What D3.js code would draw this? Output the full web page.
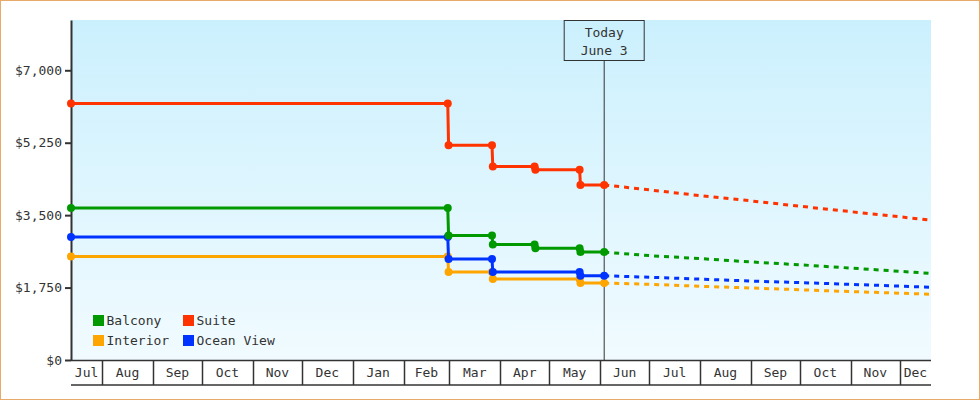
<!DOCTYPE html>
<html>
<head>
<meta charset="utf-8">
<script src="https://cdn.jsdelivr.net/npm/d3@7"></script>
<style>
  html, body { margin: 0; padding: 0; background: #fff; }
  svg { display: block; }
  text { font-family: "DejaVu Sans Mono", monospace; font-size: 13px; fill: #333; }
</style>
</head>
<body>
<svg id="chart"></svg>
<script>
const width = 980
const height = 400
const margin = {top: 20, right: 49, bottom: 40, left: 71}

// price history (step pairs) and forecast
const histDates = ['2024-07-13 00:00', '2025-02-28 00:00', '2025-02-28 12:00', '2025-03-27 00:00', '2025-03-27 12:00',
  '2025-04-22 00:00', '2025-04-22 12:00', '2025-05-19 12:00', '2025-05-20 00:00', '2025-06-03 12:00']
const suiteHist = [6200, 6200, 5190, 5190, 4675, 4675, 4595, 4595, 4230, 4230]
const balconyHist = [3670, 3670, 3008, 3008, 2790, 2790, 2703, 2703, 2607, 2607]
const oceanHist = [2970, 2970, 2438, 2438, 2124, null, null, 2124, 2035, 2035]
const interiorHist = [2500, 2500, 2124, 2124, 1955, null, null, 1955, 1858, 1858]

const forecastDates = ['2025-06-03 12:00', '2025-07-01 00:00', '2025-08-01 00:00', '2025-09-01 00:00',
  '2025-10-01 00:00', '2025-11-01 00:00', '2025-12-01 00:00', '2025-12-20 00:00']
const suiteFc = [4230, 4111, 3971, 3845, 3715, 3584, 3459, 3379]
const balconyFc = [2607, 2522, 2450, 2370, 2300, 2221, 2143, 2093]
const oceanFc = [2035, 1999, 1955, 1907, 1871, 1827, 1786, 1757]
const interiorFc = [1858, 1830, 1781, 1740, 1697, 1653, 1615, 1588]

const yTicks = [0, 1750, 3500, 5250, 7000]
const yMax = 8215
const domainDates = ['2024-07-13 00:00', '2025-12-20 00:00']
const today = '2025-06-03 12:00'
const todayLabel = ['Today', 'June 3']

const parse = d3.timeParse('%Y-%m-%d %H:%M')

// drawing order: bottom to top
const series = [
  {name: 'Interior', color: '#ffa500', hist: interiorHist, fc: interiorFc},
  {name: 'Ocean View', color: '#0033ff', hist: oceanHist, fc: oceanFc},
  {name: 'Balcony', color: '#009900', hist: balconyHist, fc: balconyFc},
  {name: 'Suite', color: '#ff3300', hist: suiteHist, fc: suiteFc}
]
const legendOrder = ['Balcony', 'Suite', 'Interior', 'Ocean View']

const innerW = width - margin.left - margin.right
const innerH = height - margin.top - margin.bottom

const x = d3.scaleTime().domain(domainDates.map(parse)).range([0, innerW])
const y = d3.scaleLinear().domain([0, yMax]).range([innerH, 0])

const svg = d3.select('#chart').attr('width', width).attr('height', height)

// outer frame
svg.append('rect').attr('x', 0.5).attr('y', 0.5).attr('width', width - 1).attr('height', height - 1)
  .attr('fill', '#fff').attr('stroke', '#e8aa66')

const defs = svg.append('defs')
const grad = defs.append('linearGradient').attr('id', 'bg').attr('x1', 0).attr('y1', 0).attr('x2', 0).attr('y2', 1)
grad.append('stop').attr('offset', '0%').attr('stop-color', '#cbf0fd')
grad.append('stop').attr('offset', '100%').attr('stop-color', '#f1fbff')

const g = svg.append('g').attr('transform', `translate(${margin.left}, ${margin.top})`)

g.append('rect').attr('width', innerW).attr('height', innerH).attr('fill', 'url(#bg)')

// y axis
const yAxis = g.append('g').call(d3.axisLeft(y).tickValues(yTicks).tickSize(6).tickSizeOuter(0).tickFormat(d3.format('$,')))
yAxis.select('.domain').attr('stroke', '#333').attr('stroke-width', 2)
yAxis.selectAll('.tick line').attr('stroke', '#333').attr('stroke-width', 2)
yAxis.selectAll('.tick text').attr('x', -9).style('font-family', '"DejaVu Sans Mono", monospace').style('font-size', '13px').attr('fill', '#333')

// x axis: month bands
const xg = g.append('g').attr('transform', `translate(0, ${innerH})`)
xg.append('line').attr('x1', 0).attr('x2', innerW).attr('y1', 0.5).attr('y2', 0.5).attr('stroke', '#333').attr('stroke-width', 1.5)
xg.append('line').attr('x1', 0).attr('x2', innerW).attr('y1', 25).attr('y2', 25).attr('stroke', '#333').attr('stroke-width', 1.5)
const [d0, d1] = x.domain()
const bounds = d3.timeMonth.range(d3.timeMonth.ceil(d0), d1)
xg.selectAll('.sep').data(bounds).enter().append('line').attr('class', 'sep')
  .attr('x1', d => Math.round(x(d)) + 0.5).attr('x2', d => Math.round(x(d)) + 0.5)
  .attr('y1', 0).attr('y2', 25).attr('stroke', '#333').attr('stroke-width', 1.5)
const months = d3.timeMonth.range(d3.timeMonth.floor(d0), d1)
xg.selectAll('.mlabel').data(months).enter().append('text').attr('class', 'mlabel')
  .attr('x', d => (x(d3.max([d, d0])) + x(d3.min([d3.timeMonth.offset(d, 1), d1]))) / 2)
  .attr('y', 17).attr('text-anchor', 'middle')
  .text(d3.timeFormat('%b'))

// today marker
const tx = x(parse(today))
g.append('line').attr('x1', tx).attr('x2', tx).attr('y1', 40.5).attr('y2', innerH).attr('stroke', '#333').attr('stroke-width', 1)
g.append('rect').attr('x', tx - 40).attr('y', 0.5).attr('width', 80).attr('height', 40)
  .attr('fill', 'none').attr('stroke', '#333').attr('stroke-width', 1)
g.selectAll('.today').data(todayLabel).enter().append('text').attr('class', 'today')
  .attr('x', tx).attr('y', (d, i) => 16.5 + i * 18).attr('text-anchor', 'middle').text(d => d)

// lines
const line = d3.line().x(d => x(d.date)).y(d => y(d.value))
series.forEach(s => {
  const hist = histDates.map((d, i) => ({date: parse(d), value: s.hist[i]})).filter(d => d.value != null)
  const fc = forecastDates.map((d, i) => ({date: parse(d), value: s.fc[i]}))
  g.append('path').datum(fc).attr('d', line).attr('fill', 'none').attr('stroke', s.color)
    .attr('stroke-width', 3).attr('stroke-dasharray', '5,5')
  g.append('path').datum(hist).attr('d', line).attr('fill', 'none').attr('stroke', s.color).attr('stroke-width', 3)
  g.selectAll(null).data(hist).enter().append('circle')
    .attr('cx', d => x(d.date)).attr('cy', d => y(d.value)).attr('r', 4).attr('fill', s.color)
})

// legend
const colorOf = name => series.find(s => s.name === name).color
const lg = g.append('g').attr('transform', 'translate(22, 295)')
const items = lg.selectAll('.item').data(legendOrder).enter().append('g')
  .attr('transform', (d, i) => `translate(${(i % 2) * 90}, ${Math.floor(i / 2) * 20})`)
items.append('rect').attr('width', 11).attr('height', 11).attr('fill', d => colorOf(d))
items.append('text').attr('x', 13.5).attr('y', 9.5).text(d => d)
</script>
</body>
</html>
